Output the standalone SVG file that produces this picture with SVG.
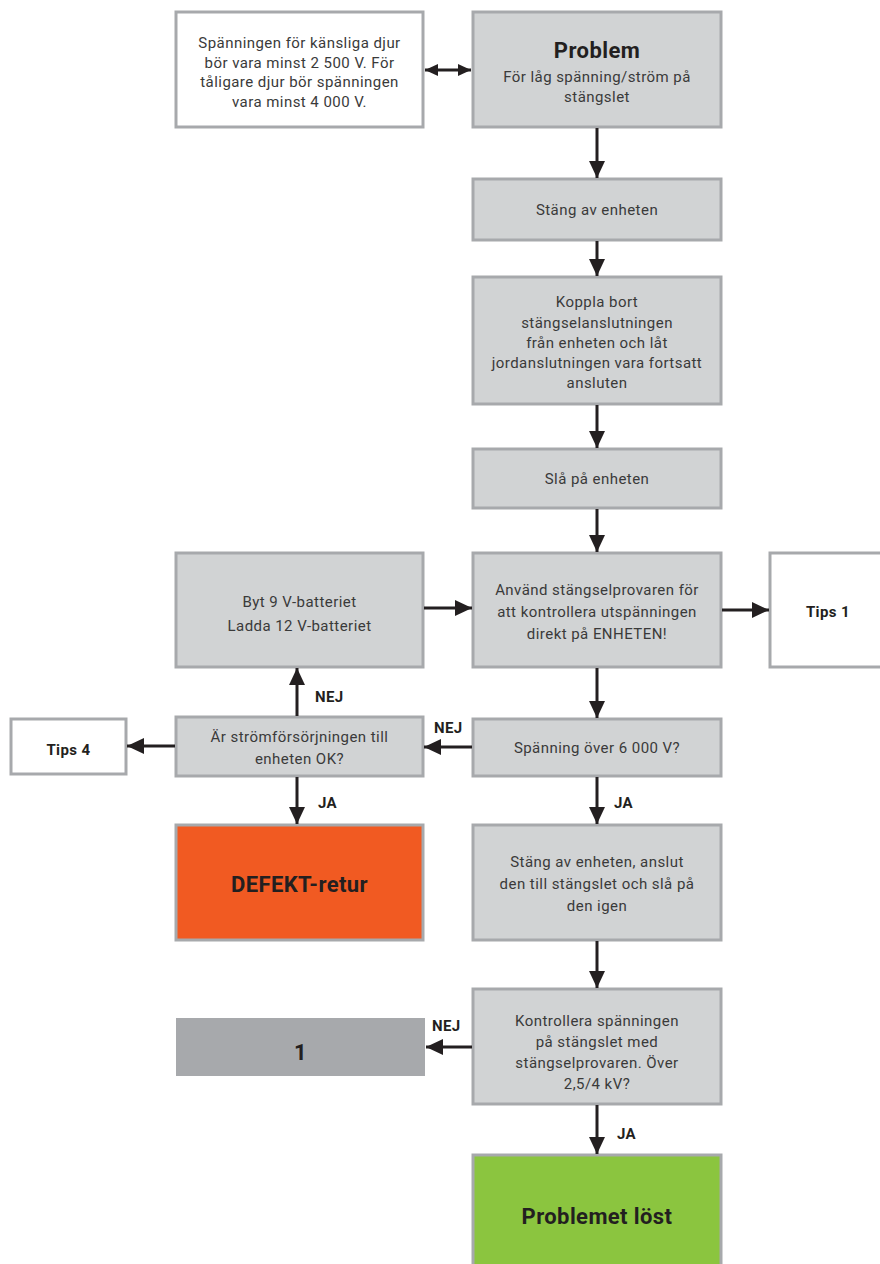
<svg xmlns="http://www.w3.org/2000/svg" width="880" height="1264" viewBox="0 0 880 1264">
<defs>
<style>
.box{fill:#d1d3d4;stroke:#a7a9ac;stroke-width:3}
.wbox{fill:#ffffff;stroke:#a7a9ac;stroke-width:3}
.t{font-family:Roboto,"Liberation Sans",sans-serif;font-size:15px;letter-spacing:0.45px;fill:#3a3a3a;text-anchor:middle}
.b{font-family:Roboto,"Liberation Sans",sans-serif;font-weight:bold;letter-spacing:0.4px;fill:#231f20;text-anchor:middle}
.lbl{font-family:Roboto,"Liberation Sans",sans-serif;font-weight:bold;font-size:15px;letter-spacing:0.4px;fill:#231f20}
.c{stroke:#231f20;stroke-width:3;fill:none}
</style>
<marker id="ah" markerUnits="userSpaceOnUse" markerWidth="18" markerHeight="16" refX="17" refY="8" orient="auto-start-reverse">
<path d="M0,0 L17,8 L0,16 Z" fill="#231f20"/>
</marker>
<marker id="ahs" markerUnits="userSpaceOnUse" markerWidth="14" markerHeight="12" refX="13" refY="6" orient="auto-start-reverse">
<path d="M0,0 L13,6 L0,12 Z" fill="#231f20"/>
</marker>
</defs>

<g id="info">
<rect class="wbox" x="176" y="12" width="247" height="115"/>
<text class="t" x="299.5" y="48">Spänningen för känsliga djur</text>
<text class="t" x="299.5" y="68">bör vara minst 2 500 V. För</text>
<text class="t" x="299.5" y="87">tåligare djur bör spänningen</text>
<text class="t" x="299.5" y="107">vara minst 4 000 V.</text>
</g>

<g id="problem">
<rect class="box" x="473" y="12" width="248" height="115"/>
<text class="b" x="597" y="58" font-size="22">Problem</text>
<text class="t" x="597" y="82">För låg spänning/ström på</text>
<text class="t" x="597" y="102">stängslet</text>
</g>

<g id="stang">
<rect class="box" x="473" y="179" width="248" height="61"/>
<text class="t" x="597" y="215">Stäng av enheten</text>
</g>

<g id="koppla">
<rect class="box" x="473" y="277" width="248" height="127"/>
<text class="t" x="597" y="307">Koppla bort</text>
<text class="t" x="597" y="328">stängselanslutningen</text>
<text class="t" x="597" y="348">från enheten och låt</text>
<text class="t" x="597" y="368">jordanslutningen vara fortsatt</text>
<text class="t" x="597" y="388">ansluten</text>
</g>

<g id="sla">
<rect class="box" x="473" y="449" width="248" height="59"/>
<text class="t" x="597" y="484">Slå på enheten</text>
</g>

<g id="anvand">
<rect class="box" x="473" y="553" width="248" height="114"/>
<text class="t" x="597" y="595">Använd stängselprovaren för</text>
<text class="t" x="597" y="617">att kontrollera utspänningen</text>
<text class="t" x="597" y="639">direkt på ENHETEN!</text>
</g>

<g id="tips1">
<rect class="wbox" x="770" y="553" width="114" height="114"/>
<text class="b" x="828" y="617" font-size="15">Tips 1</text>
</g>

<g id="byt">
<rect class="box" x="176" y="553" width="247" height="114"/>
<text class="t" x="299.5" y="607">Byt 9 V-batteriet</text>
<text class="t" x="299.5" y="631">Ladda 12 V-batteriet</text>
</g>

<g id="spanning">
<rect class="box" x="473" y="719" width="248" height="57"/>
<text class="t" x="597" y="753">Spänning över 6 000 V?</text>
</g>

<g id="strom">
<rect class="box" x="176" y="717" width="247" height="59"/>
<text class="t" x="299.5" y="742">Är strömförsörjningen till</text>
<text class="t" x="299.5" y="764">enheten OK?</text>
</g>

<g id="tips4">
<rect class="wbox" x="11" y="719" width="115" height="55"/>
<text class="b" x="68.5" y="755" font-size="15">Tips 4</text>
</g>

<g id="defekt">
<rect x="176" y="825" width="247" height="115" fill="#f15a22" stroke="#a7a9ac" stroke-width="3"/>
<text class="b" x="299.5" y="892" font-size="22">DEFEKT-retur</text>
</g>

<g id="anslut">
<rect class="box" x="473" y="825" width="248" height="115"/>
<text class="t" x="597" y="867">Stäng av enheten, anslut</text>
<text class="t" x="597" y="889">den till stängslet och slå på</text>
<text class="t" x="597" y="911">den igen</text>
</g>

<g id="kontrollera">
<rect class="box" x="473" y="989" width="248" height="115"/>
<text class="t" x="597" y="1026">Kontrollera spänningen</text>
<text class="t" x="597" y="1047">på stängslet med</text>
<text class="t" x="597" y="1068">stängselprovaren. Över</text>
<text class="t" x="597" y="1089">2,5/4 kV?</text>
</g>

<g id="one">
<rect x="176" y="1018" width="249" height="58" fill="#a7a9ac"/>
<text class="b" x="300.5" y="1060" font-size="22">1</text>
</g>

<g id="lost">
<rect x="473" y="1155" width="248" height="115" fill="#8bc53f" stroke="#a7a9ac" stroke-width="3"/>
<text class="b" x="597" y="1224" font-size="22">Problemet löst</text>
</g>

<g id="connectors">
<line class="c" x1="425" y1="70" x2="471" y2="70" marker-start="url(#ahs)" marker-end="url(#ahs)" stroke-width="2"/>
<line class="c" x1="597" y1="128" x2="597" y2="178" marker-end="url(#ah)"/>
<line class="c" x1="597" y1="241" x2="597" y2="276" marker-end="url(#ah)"/>
<line class="c" x1="597" y1="405" x2="597" y2="448" marker-end="url(#ah)"/>
<line class="c" x1="597" y1="509" x2="597" y2="552" marker-end="url(#ah)"/>
<line class="c" x1="722" y1="610" x2="769" y2="610" marker-end="url(#ah)"/>
<line class="c" x1="424" y1="608" x2="472" y2="608" marker-end="url(#ah)"/>
<line class="c" x1="597" y1="668" x2="597" y2="718" marker-end="url(#ah)"/>
<line class="c" x1="472" y1="747" x2="424" y2="747" marker-end="url(#ah)"/>
<text class="lbl" x="434" y="733">NEJ</text>
<line class="c" x1="297" y1="716" x2="297" y2="668" marker-end="url(#ah)"/>
<text class="lbl" x="315" y="702">NEJ</text>
<line class="c" x1="175" y1="746" x2="127" y2="746" marker-end="url(#ah)" stroke-width="1.5"/>
<line class="c" x1="297" y1="777" x2="297" y2="824" marker-end="url(#ah)"/>
<text class="lbl" x="318" y="808">JA</text>
<line class="c" x1="597" y1="777" x2="597" y2="824" marker-end="url(#ah)"/>
<text class="lbl" x="614" y="808">JA</text>
<line class="c" x1="597" y1="941" x2="597" y2="988" marker-end="url(#ah)"/>
<line class="c" x1="472" y1="1047" x2="426" y2="1047" marker-end="url(#ah)"/>
<text class="lbl" x="432" y="1031">NEJ</text>
<line class="c" x1="597" y1="1105" x2="597" y2="1154" marker-end="url(#ah)"/>
<text class="lbl" x="617" y="1139">JA</text>
</g>
</svg>
